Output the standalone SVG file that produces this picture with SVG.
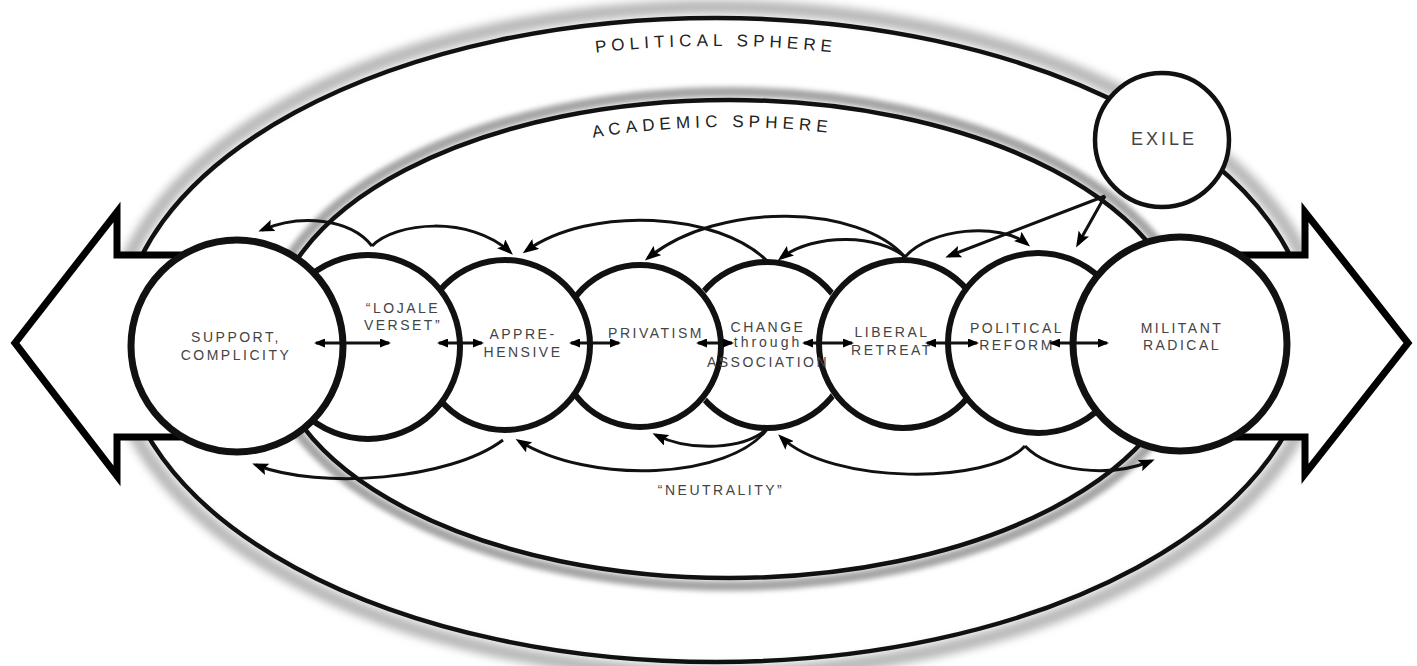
<svg xmlns="http://www.w3.org/2000/svg" width="1417" height="666" viewBox="0 0 1417 666">
<defs>
<filter id="blur" x="-10%" y="-10%" width="120%" height="120%"><feGaussianBlur stdDeviation="4.5"/></filter>
<filter id="blur2" x="-10%" y="-10%" width="120%" height="120%"><feGaussianBlur stdDeviation="2.5"/></filter>
<marker id="ah" markerUnits="userSpaceOnUse" markerWidth="16" markerHeight="12" refX="12" refY="6" orient="auto"><path d="M0,0 L16,6 L0,12 L3,6 z" fill="#000"/></marker>
<marker id="sh" markerUnits="userSpaceOnUse" markerWidth="11" markerHeight="9" refX="9" refY="4.5" orient="auto-start-reverse"><path d="M0,0 L11,4.5 L0,9 z" fill="#000"/></marker>
<path id="polPath" d="M500,68.2 A567,294 0 0 1 932,68.2"/>
<path id="acaPath" d="M497,160.4 A431,212 0 0 1 929,151.2"/>
<clipPath id="changeClip"><path clip-rule="evenodd" d="M600,200 H950 V500 H600 Z M640,346 m-84.5,0 a84.5,84.5 0 1 0 169,0 a84.5,84.5 0 1 0 -169,0 Z M903,344 m-87.5,0 a87.5,87.5 0 1 0 175,0 a87.5,87.5 0 1 0 -175,0 Z"/></clipPath>
</defs>
<style>
.sphere{fill:none;stroke:#111;stroke-width:4.5}
.halo{fill:none;stroke:#b8b8b8;stroke-width:14}
.halo2{fill:none;stroke:#a4a4a4;stroke-width:10}
.big{fill:#fff;stroke:#000;stroke-width:7;stroke-linejoin:miter;stroke-miterlimit:10}
.node{fill:#fff;stroke:#111;stroke-width:6}
.lbl{font-family:"Liberation Sans",Arial,sans-serif;font-size:14px;letter-spacing:2.5px;fill:#444;text-anchor:middle}
.sph{font-family:"Liberation Sans",Arial,sans-serif;font-size:17px;letter-spacing:5px;fill:#222;text-anchor:middle}
.conn{fill:none;stroke:#111;stroke-width:3}
.dbl{fill:none;stroke:#111;stroke-width:2.8}
</style>
<rect width="1417" height="666" fill="#fff"/>
<g id="spheres">
<ellipse class="halo" cx="716" cy="340" rx="606" ry="333" filter="url(#blur)"/>
<ellipse class="sphere" cx="716" cy="340" rx="595" ry="322"/>
<ellipse class="halo2" cx="729" cy="339" rx="466" ry="247" filter="url(#blur2)"/>
<ellipse class="sphere" cx="729" cy="339" rx="458" ry="239"/>
<text class="sph"><textPath href="#polPath" startOffset="50%">POLITICAL SPHERE</textPath></text>
<text class="sph"><textPath href="#acaPath" startOffset="50%">ACADEMIC SPHERE</textPath></text>
</g>
<g id="big-arrow">
<path class="big" d="M200,255 L117,255 L117,212 L15,343 L117,476 L117,437 L200,437"/>
<path class="big" d="M1215,255 L1305,255 L1305,212 L1408,343 L1305,474 L1305,437 L1215,437"/>
</g>
<g id="nodes">
<g id="privatism"><circle class="node" cx="640" cy="346" r="81"/><text class="lbl" x="656" y="338">PRIVATISM</text></g>
<g id="liberal-retreat"><circle class="node" cx="903" cy="344" r="84"/><text class="lbl" x="892" y="337">LIBERAL</text><text class="lbl" x="892" y="355">RETREAT</text></g>
<g id="apprehensive"><circle class="node" cx="505" cy="345" r="85"/><text class="lbl" x="523" y="339">APPRE-</text><text class="lbl" x="523" y="357">HENSIVE</text></g>
<g id="political-reform"><circle class="node" cx="1038" cy="343" r="90"/><text class="lbl" x="1017" y="333">POLITICAL</text><text class="lbl" x="1017" y="350">REFORM</text></g>
<g id="lojale-verset"><circle class="node" cx="368" cy="347" r="92"/><text class="lbl" x="403" y="313">“LOJALE</text><text class="lbl" x="403" y="330">VERSET”</text></g>
<g id="militant-radical"><circle class="node" cx="1180" cy="344" r="107" style="stroke-width:7"/><text class="lbl" x="1182" y="333">MILITANT</text><text class="lbl" x="1182" y="350">RADICAL</text></g>
<g id="support-complicity"><circle class="node" cx="237" cy="346" r="106" style="stroke-width:7"/><text class="lbl" x="236" y="342">SUPPORT,</text><text class="lbl" x="236" y="360">COMPLICITY</text></g>
<g id="change-through-association"><circle class="node" cx="767" cy="345" r="83" clip-path="url(#changeClip)"/><text class="lbl" x="768" y="332">CHANGE</text><text class="lbl" x="768" y="347" style="letter-spacing:3px">through</text><text class="lbl" x="768" y="367">ASSOCIATION</text></g>
<g id="exile"><circle class="node" cx="1162" cy="140" r="67" style="stroke-width:4.5"/><text class="lbl" x="1164" y="145" style="font-size:18px;letter-spacing:3px">EXILE</text></g>
</g>
<g id="connectors">
<path class="dbl" d="M316,343 H389" marker-start="url(#sh)" marker-end="url(#sh)"/>
<path class="dbl" d="M439,343 H482" marker-start="url(#sh)" marker-end="url(#sh)"/>
<path class="dbl" d="M571,343 H619" marker-start="url(#sh)" marker-end="url(#sh)"/>
<path class="dbl" d="M698,343 H732" marker-start="url(#sh)" marker-end="url(#sh)"/>
<path class="dbl" d="M804,343 H852" marker-start="url(#sh)" marker-end="url(#sh)"/>
<path class="dbl" d="M927,343 H977" marker-start="url(#sh)" marker-end="url(#sh)"/>
<path class="dbl" d="M1051,343 H1107" marker-start="url(#sh)" marker-end="url(#sh)"/>
<path class="conn" d="M372,246 C350,218 300,214 262,230" marker-end="url(#ah)"/>
<path class="conn" d="M372,246 C395,222 470,215 510,252" marker-end="url(#ah)"/>
<path class="conn" d="M768,262 C720,212 590,205 526,251" marker-end="url(#ah)"/>
<path class="conn" d="M905,257 C860,205 720,200 648,258" marker-end="url(#ah)"/>
<path class="conn" d="M905,257 C880,235 815,232 781,258" marker-end="url(#ah)"/>
<path class="conn" d="M905,257 C930,228 1000,222 1027,244" marker-end="url(#ah)"/>
<path class="conn" d="M1105,196 L949,256" marker-end="url(#ah)"/>
<path class="conn" d="M1105,196 L1078,244" marker-end="url(#ah)"/>
<path class="conn" d="M503,440 C450,480 320,490 256,465" marker-end="url(#ah)"/>
<path class="conn" d="M768,428 C730,480 590,485 519,441" marker-end="url(#ah)"/>
<path class="conn" d="M768,428 C745,450 690,452 656,435" marker-end="url(#ah)"/>
<path class="conn" d="M1025,446 C990,485 830,485 781,437" marker-end="url(#ah)"/>
<path class="conn" d="M1025,446 C1050,472 1110,478 1151,461" marker-end="url(#ah)"/>
</g>
<text class="lbl" x="721" y="495">“NEUTRALITY”</text>
</svg>
